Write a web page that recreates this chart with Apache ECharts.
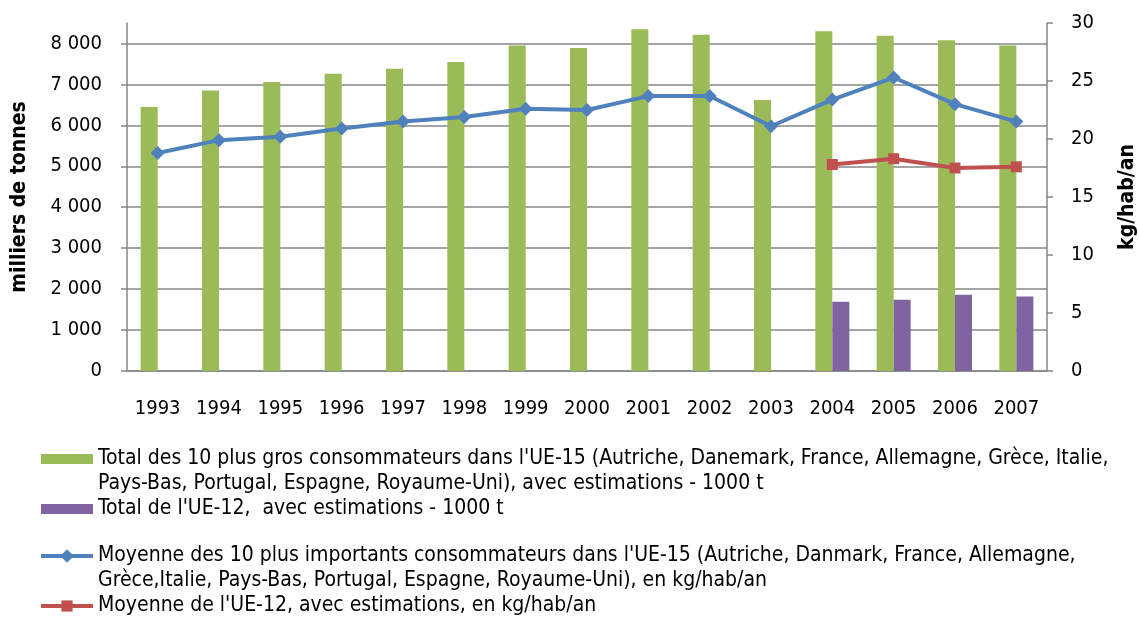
<!DOCTYPE html>
<html>
<head>
<meta charset="utf-8">
<script src="https://cdn.jsdelivr.net/npm/echarts@6/dist/echarts.min.js"></script>
<style>
  html, body { margin: 0; padding: 0; background: #fff; }
  #chart { width: 1139px; height: 623px; }
</style>
</head>
<body>
<div id="chart"></div>
<script>
// années
const years = ['1993', '1994', '1995', '1996', '1997', '1998', '1999', '2000', '2001', '2002', '2003', '2004', '2005', '2006', '2007']

// milliers de tonnes
const totalUE15 = [6450, 6850, 7060, 7260, 7380, 7550, 7950, 7890, 8350, 8210, 6620, 8300, 8190, 8080, 7950]
const totalUE12 = [null, null, null, null, null, null, null, null, null, null, null, 1690, 1740, 1860, 1820]

// kg/hab/an
const moyUE15 = [18.8, 19.9, 20.2, 20.9, 21.5, 21.9, 22.6, 22.5, 23.7, 23.7, 21.1, 23.4, 25.3, 23.0, 21.5]
const moyUE12 = [null, null, null, null, null, null, null, null, null, null, null, 17.8, 18.3, 17.5, 17.6]

const names = [
  "Total des 10 plus gros consommateurs dans l'UE-15 (Autriche, Danemark, France, Allemagne, Grèce, Italie, Pays-Bas, Portugal, Espagne, Royaume-Uni), avec estimations - 1000 t",
  "Total de l'UE-12,  avec estimations - 1000 t",
  "Moyenne des 10 plus importants consommateurs dans l'UE-15 (Autriche, Danmark, France, Allemagne, Grèce,Italie, Pays-Bas, Portugal, Espagne, Royaume-Uni), en kg/hab/an",
  "Moyenne de l'UE-12, avec estimations, en kg/hab/an"
]
// coupure des libellés sur deux lignes
const firstLines = {
  [names[0]]: "Total des 10 plus gros consommateurs dans l'UE-15 (Autriche, Danemark, France, Allemagne, Grèce, Italie,",
  [names[2]]: "Moyenne des 10 plus importants consommateurs dans l'UE-15 (Autriche, Danmark, France, Allemagne,"
}
const secondLines = [
  'Pays-Bas, Portugal, Espagne, Royaume-Uni), avec estimations - 1000 t',
  'Grèce,Italie, Pays-Bas, Portugal, Espagne, Royaume-Uni), en kg/hab/an'
]

const FONT = '"DejaVu Sans Condensed", "Liberation Sans", sans-serif'
const axisColor = '#868686'
const txt = { fontFamily: FONT, fontSize: 20, color: '#000' }
const legendFont = 21
const LH = 25

const chart = echarts.init(document.getElementById('chart'))

// une légende par série pour placer chaque ligne comme dans l'original
const makeLegend = (name, center, h, left) => ({
  data: [name],
  orient: 'vertical',
  left: left,
  top: center - LH / 2,
  padding: 0,
  itemWidth: 52,
  itemHeight: h,
  itemGap: 0,
  icon: h < 12 ? 'rect' : undefined,
  selectedMode: false,
  lineStyle: { width: 4 },
  formatter: (n) => firstLines[n] || n,
  textStyle: { ...txt, fontSize: legendFont, lineHeight: LH }
})

chart.setOption({
  animation: false,
  textStyle: { fontFamily: FONT },
  grid: { left: 127, right: 92, top: 23, bottom: 252, outerBoundsMode: 'none' },
  legend: [
    makeLegend(names[0], 459, 10, 41),
    makeLegend(names[1], 509, 10, 41),
    makeLegend(names[2], 556, 17, 39),
    makeLegend(names[3], 606, 14, 39)
  ],
  graphic: [
    {
      type: 'text', left: 98, top: 484 - LH / 2,
      style: { text: secondLines[0], fontFamily: FONT, fontSize: legendFont, lineHeight: LH, fill: '#000' }
    },
    {
      type: 'text', left: 98, top: 581 - LH / 2,
      style: { text: secondLines[1], fontFamily: FONT, fontSize: legendFont, lineHeight: LH, fill: '#000' }
    }
  ],
  xAxis: {
    type: 'category',
    data: years,
    axisLine: { lineStyle: { color: axisColor, width: 1.5 } },
    axisTick: { length: 6, lineStyle: { color: axisColor, width: 1.5 } },
    axisLabel: { ...txt, margin: 28 }
  },
  yAxis: [
    {
      type: 'value',
      min: 0,
      max: 8500,
      interval: 1000,
      name: 'milliers de tonnes',
      nameLocation: 'middle',
      nameGap: 97,
      nameTextStyle: { ...txt, fontSize: 21, fontWeight: 'bold' },
      axisLine: { show: true, lineStyle: { color: axisColor, width: 1.5 } },
      axisTick: { show: true, length: 6, lineStyle: { color: axisColor, width: 1.5 } },
      axisLabel: {
        ...txt,
        margin: 25,
        showMaxLabel: false,
        formatter: (v) => v > 8000 ? '' : String(v).replace(/\B(?=(\d{3})+(?!\d))/g, ' ')
      },
      splitLine: { showMaxLine: false, lineStyle: { color: axisColor, width: 1.5 } }
    },
    {
      type: 'value',
      min: 0,
      max: 30,
      interval: 5,
      name: 'kg/hab/an',
      nameLocation: 'middle',
      nameGap: 70,
      nameRotate: 90,
      nameTextStyle: { ...txt, fontSize: 21, fontWeight: 'bold' },
      axisLine: { show: true, lineStyle: { color: axisColor, width: 1.5 } },
      axisTick: { show: true, length: 6, lineStyle: { color: axisColor, width: 1.5 } },
      axisLabel: { ...txt, margin: 24 },
      splitLine: { show: false }
    }
  ],
  series: [
    {
      name: names[0],
      type: 'bar',
      data: totalUE15,
      barWidth: 17,
      barGap: '0%',
      itemStyle: { color: '#9BBB59' }
    },
    {
      name: names[1],
      type: 'bar',
      data: totalUE12,
      barWidth: 17,
      barGap: '0%',
      itemStyle: { color: '#8064A2' }
    },
    {
      name: names[2],
      type: 'line',
      yAxisIndex: 1,
      data: moyUE15,
      symbol: 'diamond',
      symbolSize: 14,
      lineStyle: { color: '#4F81BD', width: 4 },
      itemStyle: { color: '#4F81BD' }
    },
    {
      name: names[3],
      type: 'line',
      yAxisIndex: 1,
      data: moyUE12,
      symbol: 'rect',
      symbolSize: 11,
      lineStyle: { color: '#C0504D', width: 4 },
      itemStyle: { color: '#C0504D' }
    }
  ]
})
</script>
</body>
</html>
